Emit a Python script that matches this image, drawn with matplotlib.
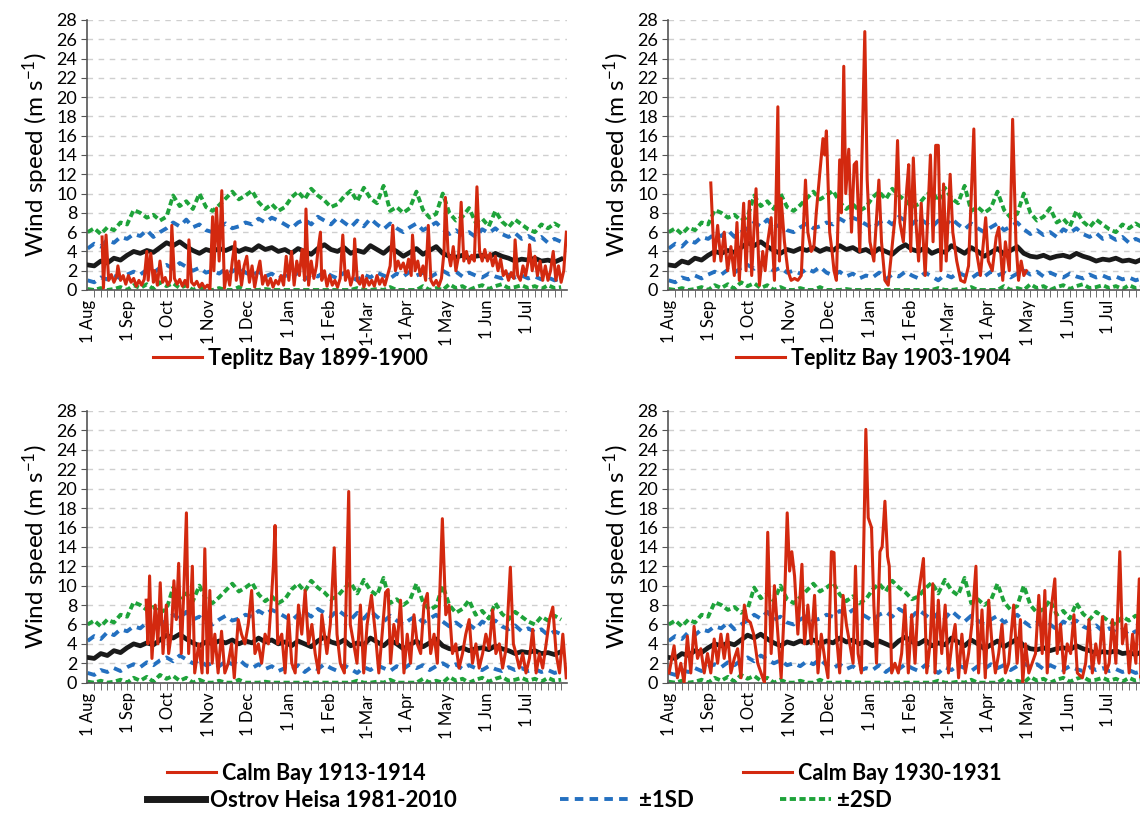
import matplotlib
matplotlib.use('Agg')
import matplotlib.pyplot as plt
from matplotlib.lines import Line2D

plt.rcParams['font.family'] = ['Lato', 'DejaVu Sans']
plt.rcParams['mathtext.default'] = 'regular'

# month labels (category positions, day of year starting 1 Aug)
month_days = [0, 31, 61, 92, 122, 153, 184, 212, 243, 273, 304, 334]
month_labels = ['1 Aug', '1 Sep', '1 Oct', '1 Nov', '1 Dec', '1 Jan', '1 Feb', '1-Mar',
                '1 Apr', '1 May', '1 Jun', '1 Jul']

# Ostrov Heisa 1981-2010 climatology, read every 5 days
clim_days = [0, 5, 10, 15, 20, 25, 30, 35, 40, 45, 50, 55, 60, 65, 70, 75, 80, 85, 90, 95,
             100, 105, 110, 115, 120, 125, 130, 135, 140, 145, 150, 155, 160, 165, 170, 175,
             180, 185, 190, 195, 200, 205, 210, 215, 220, 225, 230, 235, 240, 245, 250, 255,
             260, 265, 270, 275, 280, 285, 290, 295, 300, 305, 310, 315, 320, 325, 330, 335,
             340, 345, 350, 355, 360]
clim_mean = [2.6, 2.5, 3.0, 2.8, 3.3, 3.1, 3.6,
             4.0, 3.8, 4.1, 3.9, 4.4, 4.9,
             4.6, 5.0, 4.5, 4.1, 3.8, 4.2,
             4.0, 4.3, 4.1, 4.4, 4.0, 4.3,
             4.1, 4.6, 4.2, 4.4, 4.0, 4.2,
             3.8, 4.3, 4.0, 3.7, 4.3, 4.7,
             4.2, 4.0, 4.4, 3.8, 4.1, 3.9,
             4.6, 4.2, 3.8, 4.4, 4.0, 3.5,
             3.9, 4.3, 3.7, 4.1, 4.5, 3.8,
             3.5, 3.4, 3.6, 3.3, 3.5, 3.6,
             3.4, 3.8, 3.5, 3.3, 3.0, 3.2,
             3.1, 3.3, 3.0, 3.1, 2.9, 3.2]
sd1_hi = [4.3, 4.8, 4.5, 5.2, 4.9, 5.5, 5.3,
          5.8, 5.6, 6.2, 5.5, 6.0, 6.4,
          7.0, 6.6, 7.3, 6.5, 6.8, 6.2,
          6.0, 6.5, 6.9, 6.4, 6.6, 7.0,
          6.8, 7.4, 7.0, 7.5, 7.2, 6.8,
          6.4, 7.0, 7.3, 6.8, 7.6, 7.2,
          6.8, 7.5, 7.0, 6.5, 7.2, 6.6,
          7.4, 6.8, 6.3, 6.9, 6.4, 6.0,
          6.5, 6.9, 6.2, 6.6, 7.0, 6.3,
          5.8, 6.2, 5.7, 6.0, 5.5, 6.3,
          5.9, 6.4, 5.8, 5.5, 5.9, 5.3,
          5.6, 5.2, 5.5, 4.9, 5.3, 5.0]
sd1_lo = [1.0, 0.8, 1.3, 1.1, 1.5, 1.2, 1.6,
          1.9, 1.6, 2.1, 1.8, 2.3, 2.6,
          2.2, 2.8, 2.4, 2.0, 2.3, 1.8,
          2.0, 1.7, 2.2, 1.9, 2.4, 1.8,
          1.5, 1.9, 1.4, 1.7, 1.2, 1.5,
          1.3, 1.8, 1.1, 1.6, 1.4, 1.9,
          1.5, 1.2, 1.8, 1.4, 1.0, 1.6,
          1.3, 1.8, 1.5, 1.2, 1.7, 1.4,
          1.9, 1.5, 1.8, 1.3, 1.7, 2.0,
          1.6, 1.9, 1.4, 1.8, 1.5, 1.3,
          1.7, 1.4, 1.2, 1.6, 1.3, 1.5,
          1.2, 1.4, 1.1, 1.3, 1.0, 1.2]
sd2_hi = [6.0, 6.4, 5.8, 6.5, 6.2, 7.0, 6.8,
          8.3, 8.0, 7.5, 7.8, 7.2, 7.6,
          9.8, 8.7, 9.2, 8.4, 10.0, 8.6,
          8.2, 8.8, 9.5, 10.2, 9.4, 9.8,
          10.3, 9.1, 8.4, 8.9, 8.2, 8.6,
          9.6, 10.2, 9.4, 10.5, 9.8, 9.3,
          8.6, 8.9, 9.7, 10.3, 9.2, 10.6,
          9.5, 9.0, 10.8, 8.2, 8.6, 8.0,
          8.5, 10.2, 8.3, 7.5, 7.9, 10.0,
          8.0, 7.2, 7.6, 8.5, 7.0, 7.4,
          6.6, 8.2, 7.1, 6.5, 7.3, 6.8,
          6.3, 6.0, 6.8, 6.4, 6.9, 6.5]
sd2_lo = [0.1, 0.0, 0.2, 0.0, 0.1, 0.3, 0.0,
          0.5, 0.2, 0.6, 0.1, 0.8, 0.4,
          0.7, 0.2, 0.5, 0.0, 0.3, 0.0,
          0.0, 0.2, 0.0, 0.0, 0.3, 0.0,
          0.0, 0.0, 0.1, 0.0, 0.0, 0.0,
          0.0, 0.0, 0.0, 0.0, 0.0, 0.0,
          0.0, 0.0, 0.0, 0.0, 0.2, 0.0,
          0.0, 0.1, 0.0, 0.3, 0.0, 0.0,
          0.0, 0.0, 0.4, 0.0, 0.2, 0.0,
          0.6, 0.2, 0.4, 0.0, 0.3, 0.5,
          0.1, 0.4, 0.6, 0.2, 0.3, 0.5,
          0.2, 0.4, 0.1, 0.5, 0.2, 0.3]

# historical station records (day since 1 Aug, wind speed m/s)
tb1899_day = [11, 12, 14, 16, 18, 20, 22, 23, 25, 27, 29, 31, 33, 35, 37, 39, 41, 43, 45, 46,
              48, 50, 51, 53, 55, 57, 59, 61, 63, 64, 66, 68, 70, 72, 74, 76, 77, 79, 81, 83,
              85, 87, 89, 91, 93, 95, 96, 98, 100, 102, 104, 106, 108, 110, 112, 113, 115, 117,
              119, 121, 123, 125, 127, 129, 131, 133, 135, 137, 139, 141, 143, 145, 147, 149,
              151, 153, 155, 157, 159, 161, 163, 165, 166, 168, 170, 172, 174, 175, 177, 178,
              180, 182, 184, 186, 188, 190, 192, 194, 196, 198, 200, 202, 203, 205, 207, 209,
              210, 212, 214, 216, 218, 220, 222, 224, 226, 228, 230, 232, 234, 236, 238, 240,
              242, 244, 246, 247, 249, 251, 253, 255, 257, 259, 261, 263, 265, 267, 269, 271,
              272, 274, 276, 278, 280, 282, 284, 286, 288, 290, 292, 294, 296, 298, 300, 302,
              304, 306, 308, 310, 312, 314, 316, 318, 320, 322, 324, 325, 327, 329, 331, 333,
              335, 336, 338, 340, 342, 344, 346, 348, 350, 352, 354, 356, 358, 360, 362, 364]
tb1899_ws = [5.5, 0.2, 5.7, 1.0, 1.6, 0.8, 1.4, 2.5, 1.0, 1.5, 0.6, 1.5, 0.8, 1.2, 0.4, 1.0,
             0.5, 1.1, 4.0, 1.0, 3.8, 0.8, 2.0, 0.5, 3.0, 0.8, 1.3, 0.5, 1.0, 6.7, 1.2, 0.6,
             1.1, 0.4, 1.0, 0.3, 5.2, 0.8, 0.5, 0.9, 0.3, 0.7, 0.2, 0.5, 0.1, 7.6, 2.0, 8.5,
             3.0, 10.3, 0.2, 2.0, 0.5, 3.0, 5.0, 1.0, 3.0, 0.5, 2.5, 3.5, 0.8, 2.5, 0.3, 1.8,
             3.0, 0.6, 1.5, 0.5, 1.2, 0.3, 1.0, 0.6, 1.5, 0.5, 3.5, 1.0, 4.0, 0.5, 3.0, 1.5,
             4.2, 1.0, 8.4, 0.5, 3.0, 1.2, 2.5, 4.0, 6.0, 1.0, 2.0, 0.4, 1.5, 0.5, 1.0, 0.3,
             1.2, 5.7, 1.0, 2.0, 0.5, 1.5, 5.3, 1.0, 0.6, 1.5, 0.3, 1.2, 0.5, 1.0, 0.4, 1.5,
             0.6, 1.2, 0.5, 1.5, 2.5, 6.7, 2.0, 3.0, 2.2, 2.8, 1.8, 3.2, 1.5, 5.7, 2.0, 3.0,
             1.5, 2.5, 1.0, 6.7, 1.0, 0.5, 1.0, 0.4, 1.2, 4.0, 9.6, 4.0, 2.5, 4.5, 2.0, 3.5,
             9.1, 3.0, 4.0, 2.8, 3.6, 3.0, 10.7, 4.0, 3.0, 4.2, 3.0, 3.8, 2.5, 3.5, 2.0, 3.2,
             1.5, 2.0, 1.0, 1.8, 1.2, 5.2, 1.5, 1.0, 2.5, 1.5, 3.0, 4.7, 2.0, 3.5, 1.5, 3.0,
             1.0, 2.5, 1.0, 2.0, 4.0, 1.0, 2.5, 0.8, 2.0, 6.0]

tb1903_day = [32, 34.6, 37.2, 39.7, 42.2, 44.8, 47.3, 49.9, 51.9, 53.7, 57, 58.8, 61.3, 63.1,
              66.4, 69, 71.5, 73.3, 75.3, 77.9, 80.4, 83, 84.2, 85.5, 88, 90.6, 93.1, 95.7,
              98.2, 100.8, 104, 105.8, 108.4, 110.4, 112.2, 114.8, 117.3, 118.6, 119.9, 122.4,
              124.2, 125.7, 127.5, 130, 131.3, 133.1, 134.6, 136.9, 139, 141, 142.8, 145.3,
              149.1, 150.9, 153, 156, 159.8, 161.8, 164.4, 166.9, 169.5, 172, 174, 175.8,
              178.4, 181, 182.5, 184, 186, 188, 190, 192, 195, 199, 201, 203, 205, 207, 209,
              211, 214, 216, 219, 222, 225, 228, 232, 234, 237, 241, 243, 246, 249, 251, 254,
              256, 259, 261.5, 264, 266, 268, 270, 272]
tb1903_ws = [11.1, 3, 6.7, 3, 6, 2, 4.5, 1.5, 7, 1, 9, 2, 9.2, 1.5,
             10.5, 0.5, 4, 2, 5, 7.5, 1, 19, 3, 9.5, 5, 2, 1, 1.2,
             1, 1.5, 11.4, 6, 4, 4.5, 8, 12, 15.7, 14, 16.5, 6,
             4, 2, 1, 13.5, 8, 23.2, 10, 14.6, 6, 13, 13.3, 4,
             26.8, 11.5, 5, 3, 11.4, 5, 1, 0.5, 4, 7.5, 15.5, 7,
             5, 10.5, 13, 4, 13.7, 7, 3, 9, 1.5, 14, 5, 15, 15, 2, 11,
             3, 12, 6, 3, 1, 0.8, 2.5, 16.7, 4, 1.5, 7.5, 3, 2, 5.5, 6.5, 1,
             5, 2, 17.7, 5, 1, 3, 1.5, 2]

cb1913_day = [44.5, 45.8, 47.1, 48.9, 51.4, 53.4, 55.2, 57.3, 59.8, 61.6, 63.6, 65.6, 67.4,
              69.2, 71.2, 73, 75.1, 76.8, 79.6, 81.4, 84.5, 87, 89.1, 91.1, 92.9, 94.7, 96.7,
              99.2, 101.8, 104.3, 106.9, 109.4, 111.5, 114.5, 117, 119.6, 122.1, 124.7, 127.2,
              129.8, 132.3, 134.9, 137.4, 139.9, 141.2, 142.5, 144.5, 147.6, 150.1, 152.7,
              155.2, 157.8, 160.3, 162.8, 165.4, 167.9, 170.5, 173, 175.6, 178.1, 181.9,
              184.5, 187.5, 189.6, 192.1, 195.2, 198.5, 199.7, 202.3, 204.8, 207.4, 209.9,
              212.5, 215.8, 218.8, 221.4, 223.9, 226.5, 228.5, 230.3, 232.8, 235.4, 237.9,
              240.5, 243, 245.5, 248.1, 250.6, 253.2, 255.7, 258.3, 260.8, 263.4, 265.9,
              267.7, 269.7, 272.3, 274.8, 277.4, 279.9, 282.4, 285, 287.5, 290.1, 292.6,
              295.2, 297.7, 300.3, 302.8, 305.3, 307.9, 310.4, 313, 315.5, 318.1, 321.4,
              323.7, 325.7, 328.2, 330.8, 333.3, 335.9, 338.4, 341, 343.5, 346, 348.6,
              351.1, 353.7, 356.2, 358.8, 361.3, 363.9]
cb1913_ws = [8.5, 4, 11, 2.5, 8, 4, 10.3, 3, 8, 3, 5, 10.5, 6.5,
             12.3, 3, 9, 17.5, 3, 12, 1, 4, 1, 13.8, 1, 9.5, 2, 5,
             1, 5.3, 1, 2, 4, 0.5, 6.5, 5, 4, 6, 9.5, 3,
             4, 2, 5, 4, 9, 12, 16.2, 4, 5, 1, 7,
             2, 1, 8, 5, 9.5, 4, 6, 3, 1, 7, 3,
             6, 13.9, 5, 2, 1, 19.7, 6, 4, 2, 8, 1,
             6, 9, 5, 1, 5, 9.3, 9.6, 2, 6, 4, 8.5,
             1, 5, 2, 7, 4, 3, 8, 9.2, 3, 5, 2,
             9, 16.9, 7, 8, 3, 4, 1.5, 3, 5, 6.5, 2,
             4, 1.5, 3, 5, 3.5, 7.5, 3, 4, 1.5, 3.5, 11.9,
             4, 3, 1.5, 3, 1, 2.5, 5.5, 1, 3, 1.5, 4,
             6.5, 7.8, 3, 1, 5, 0.5]

cb1930_day = [0.3, 4.1, 6.6, 9.2, 11.7, 14.2, 16.8, 19.3, 21.9, 24.4, 27, 29.5, 32, 34.6,
              37.2, 39.7, 42.2, 44.8, 47.3, 49.9, 52.4, 55, 57.5, 59.5, 62.1, 64.6, 67.7,
              70.2, 72.8, 75.3, 77.9, 80.4, 83, 85.5, 88, 90.1, 91.9, 93.6, 95.7, 98.2,
              101.3, 103.3, 105.8, 108.4, 110.9, 113.5, 116, 118.6, 121.1, 123.7, 125.7,
              127.5, 130, 132.6, 135.1, 137.7, 140.2, 142, 144, 146.5, 149.9, 151.7, 154.2,
              156, 158, 160.6, 162.3, 164.4, 166.4, 167.7, 169.5, 172, 174.6, 177.1, 179.6,
              182.2, 184.7, 187.3, 189.8, 193.7, 196.2, 198.7, 200.8, 202.5, 205, 207.6,
              210.2, 212.7, 215.3, 217.8, 220.4, 222.9, 225.5, 228, 230.5, 233.6, 235.6,
              238.2, 240.7, 243.3, 245.8, 248.4, 250.9, 253.4, 256, 258.5, 262.3, 264.9,
              267.4, 269.2, 271.3, 273.8, 276.3, 278.9, 281.4, 284, 286, 287.8, 290.3,
              293.6, 295.4, 297.9, 300.5, 303, 305.6, 308.1, 310.7, 314.5, 317, 319.6,
              322.1, 324.7, 327.2, 329.8, 332.3, 334.9, 337.4, 340, 343, 345, 347.6, 350.1,
              352.7, 355.2, 357.8, 359, 362, 364]
cb1930_ws = [1, 3.8, 0.5, 2, 0, 4.8, 1, 5.8, 2.5, 3.5, 1, 3, 1, 4.5,
             2, 5, 2.5, 5, 1, 2.5, 3.5, 0.5, 8, 6.5, 6.2, 5, 2,
             1, 0, 15.5, 3, 10, 5, 0.5, 8, 17.5, 11.5, 13.5, 11, 5,
             12.2, 4, 8, 4, 9, 1, 5, 2.5, 0.5, 13.5, 13.4,
             5, 1, 9, 6, 4, 2, 12, 3, 1, 26.1, 17, 16,
             8, 2, 13.5, 14, 18.7, 13, 12, 1, 2, 1, 3, 8,
             1, 7, 2, 9, 12.8, 1, 4, 10.2, 1, 8.5, 3,
             8, 1, 4, 6, 0.5, 5, 1, 3, 6, 12, 1,
             7.5, 0.5, 8.5, 4, 1, 3, 6, 1, 2, 8, 2,
             6.5, 0, 4, 1, 2, 3, 9, 3, 9.5, 1, 7,
             10.7, 3, 6, 1, 4, 3, 7, 1, 0.5, 2, 6.5,
             1, 4, 2, 6.8, 1, 2, 6.5, 2, 13.5, 4, 6, 1,
             5, 2, 10.7, 0.5, 3, 1]

panels = [
    ([0.0763, 0.6433, 0.4211, 0.3321], tb1899_day, tb1899_ws, 'Teplitz Bay 1899-1900', 290, 358),
    ([0.5860, 0.6433, 0.4211, 0.3321], tb1903_day, tb1903_ws, 'Teplitz Bay 1903-1904', 873, 358),
    ([0.0763, 0.1603, 0.4211, 0.3342], cb1913_day, cb1913_ws, 'Calm Bay 1913-1914', 296, 773),
    ([0.5860, 0.1603, 0.4211, 0.3342], cb1930_day, cb1930_ws, 'Calm Bay 1930-1931', 872, 773),
]

RED = '#d3290f'
BLUE = '#2470c0'
GREEN = '#1ea33a'
BLACK = '#1a1a1a'

fig = plt.figure(figsize=(11.4, 8.13), dpi=100)

for rect, days, ws, name, lx, ly in panels:
    ax = fig.add_axes(rect)
    for y in range(2, 29, 2):
        ax.axhline(y, color='#cfcfcf', lw=1.0, dashes=(4, 4), zorder=0)
    ax.plot(clim_days, sd2_hi, color=GREEN, lw=2.8, dashes=(1.6, 0.9), zorder=2)
    ax.plot(clim_days, sd2_lo, color=GREEN, lw=2.8, dashes=(1.6, 0.9), zorder=2)
    ax.plot(clim_days, sd1_hi, color=BLUE, lw=2.8, dashes=(2.2, 1.6), zorder=2)
    ax.plot(clim_days, sd1_lo, color=BLUE, lw=2.8, dashes=(2.2, 1.6), zorder=2)
    ax.plot(clim_days, clim_mean, color=BLACK, lw=3.4, zorder=3)
    red, = ax.plot(days, ws, color=RED, lw=2.2, zorder=4)

    ax.set_xlim(-0.5, 364.5)
    ax.set_ylim(0, 28)
    ax.set_yticks(range(0, 29, 2))
    ax.tick_params(axis='y', labelsize=13, length=4, color='#555555', pad=3)
    ax.set_xticks(month_days)
    ax.set_xticklabels(month_labels, rotation=90, fontsize=12)
    ax.set_xticks(range(0, 365, 5), minor=True)
    ax.tick_params(axis='x', which='major', length=0, pad=7)
    ax.tick_params(axis='x', which='minor', length=5, color='#555555')
    for s in ['top', 'right']:
        ax.spines[s].set_visible(False)
    for s in ['left', 'bottom']:
        ax.spines[s].set_color('#555555')
        ax.spines[s].set_linewidth(1.2)
    ax.set_ylabel('Wind speed (m s$^{-1}$)', fontsize=17.5, labelpad=4)

    fig.legend(handles=[red], labels=[name], loc='center',
               bbox_to_anchor=(lx / 1140, 1 - ly / 813), frameon=False,
               handlelength=2.3, handletextpad=0.25, borderpad=0, borderaxespad=0,
               prop={'family': ['Lato', 'DejaVu Sans'], 'weight': 'bold', 'size': 15.5})

# shared legend row at the bottom
bottom_items = [
    (Line2D([], [], color=BLACK, lw=5), 'Ostrov Heisa 1981-2010', 147, 2.6),
    (Line2D([], [], color=BLUE, lw=2.8, dashes=(2.2, 1.6)), '±1SD', 560, 3.3),
    (Line2D([], [], color=GREEN, lw=2.8, dashes=(1.6, 0.9)), '±2SD', 780, 2.3),
]
for h, txt, x0, hl in bottom_items:
    fig.legend(handles=[h], labels=[txt], loc='center left',
               bbox_to_anchor=(x0 / 1140, 1 - 800 / 813), frameon=False,
               handlelength=hl, handletextpad=0.25, borderpad=0, borderaxespad=0,
               prop={'family': ['Lato', 'DejaVu Sans'], 'weight': 'bold', 'size': 16})

fig.savefig('out.png', dpi=100)
